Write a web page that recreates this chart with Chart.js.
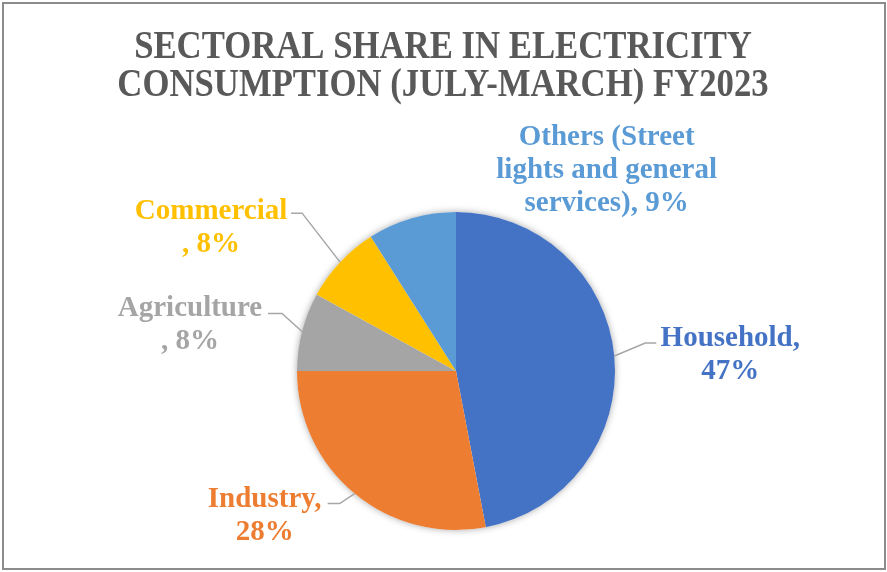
<!DOCTYPE html>
<html>
<head>
<meta charset="utf-8">
<script src="https://cdn.jsdelivr.net/npm/chart.js@4/dist/chart.umd.min.js"></script>
<style>
    body { margin: 0; background: #fff; }
    #wrap { width: 887px; height: 572px; }
</style>
</head>
<body>
<div id="wrap"><canvas id="sectorChart" width="887" height="572"></canvas></div>
<script>
// DATOS DEL GRAFICO

const categories = ['Household', 'Industry', 'Agriculture', 'Commercial', 'Others (Street lights and general services)'];
const shares = [47, 28, 8, 8, 9];
const sliceColors = ['#4472C4', '#ED7D31', '#A5A5A5', '#FFC000', '#5B9BD5'];
const titleLines = ['SECTORAL SHARE IN ELECTRICITY', 'CONSUMPTION (JULY-MARCH) FY2023'];

// como se parte cada etiqueta en lineas ({p} = porcentaje)
const labelWrap = [
    ['Household,', '{p}'],
    ['Industry,', '{p}'],
    ['Agriculture', ', {p}'],
    ['Commercial', ', {p}'],
    ['Others (Street', 'lights and general', 'services), {p}']
];

// posicion de cada etiqueta respecto al borde del sector (centro del texto y codo de la linea guia)
const labelLayout = [
    { dx: 116, dy: -4, elbow: [31, -13], tail: 11 },
    { dx: -90, dy: 20, elbow: [-15, 10], tail: -12 },
    { dx: -112, dy: -9, elbow: [-20, -18], tail: -14 },
    { dx: -129, dy: -37, elbow: [-38, -49], tail: -11 },
    { dx: 195, dy: -50, elbow: null, tail: 0 }
];

const LABEL_FONT = 'bold 29px "Liberation Serif", "Times New Roman", serif';
const TITLE_FONT = 'bold 40px "Liberation Serif", "Times New Roman", serif';
const TITLE_SQUEEZE = 0.868; // el titulo va un poco condensado

// SOMBRA, TITULO Y MARCO

const pieShadow = {
    id: 'pieShadow',
    beforeDatasetsDraw(chart) {
        const arc = chart.getDatasetMeta(0).data[0];
        if (!arc) return;
        const ctx = chart.ctx;
        ctx.save();
        ctx.shadowColor = 'rgba(0,0,0,0.35)';
        ctx.shadowBlur = 7;
        ctx.fillStyle = '#ffffff';
        ctx.beginPath();
        ctx.arc(arc.x, arc.y, arc.outerRadius, 0, Math.PI * 2);
        ctx.fill();
        ctx.restore();
    }
};

const frameAndTitle = {
    id: 'frameAndTitle',
    afterDraw(chart) {
        const ctx = chart.ctx;
        ctx.save();
        ctx.strokeStyle = '#8c8c8c';
        ctx.lineWidth = 2;
        ctx.strokeRect(3, 3, 882, 566);

        ctx.fillStyle = '#595959';
        ctx.font = TITLE_FONT;
        ctx.textAlign = 'center';
        ctx.textBaseline = 'alphabetic';
        ctx.translate(443, 0);
        ctx.scale(TITLE_SQUEEZE, 1);
        ctx.fillText(titleLines[0], 0, 58);
        ctx.fillText(titleLines[1], 0, 96);
        ctx.restore();
    }
};

// ETIQUETAS CON LINEAS GUIA

const sliceLabels = {
    id: 'sliceLabels',
    afterDatasetsDraw(chart) {
        const ctx = chart.ctx;
        const meta = chart.getDatasetMeta(0);
        ctx.save();
        meta.data.forEach((arc, i) => {
            const mid = (arc.startAngle + arc.endAngle) / 2;
            const ex = arc.x + Math.cos(mid) * arc.outerRadius;
            const ey = arc.y + Math.sin(mid) * arc.outerRadius;
            const lay = labelLayout[i];

            if (lay.elbow) {
                const bx = ex + lay.elbow[0];
                const by = ey + lay.elbow[1];
                ctx.strokeStyle = '#a6a6a6';
                ctx.lineWidth = 1.5;
                ctx.beginPath();
                ctx.moveTo(ex, ey);
                ctx.lineTo(bx, by);
                ctx.lineTo(bx + lay.tail, by);
                ctx.stroke();
            }

            const pct = shares[i] + '%';
            const lines = labelWrap[i].map(t => t.replace('{p}', pct));
            const lh = 33;
            const cx = ex + lay.dx;
            const cy = ey + lay.dy;
            ctx.fillStyle = sliceColors[i];
            ctx.font = LABEL_FONT;
            ctx.textAlign = 'center';
            ctx.textBaseline = 'alphabetic';
            lines.forEach((t, k) => {
                const y = cy + (k - (lines.length - 1) / 2) * lh + 10;
                ctx.fillText(t, cx, y);
            });
        });
        ctx.restore();
    }
};

const ctx = document.getElementById('sectorChart').getContext('2d');
const sectorChart = new Chart(ctx, {
    type: 'pie',
    data: {
        labels: categories,
        datasets: [{
            data: shares,
            backgroundColor: sliceColors,
            borderWidth: 0,
            hoverOffset: 0,
            offset: 0
        }]
    },
    options: {
        responsive: false,
        animation: false,
        events: [],
        rotation: 0,
        layout: {
            padding: { left: 297, right: 272, top: 212, bottom: 42 }
        },
        plugins: {
            legend: { display: false },
            tooltip: { enabled: false },
            title: { display: false }
        }
    },
    plugins: [pieShadow, sliceLabels, frameAndTitle]
});
</script>
</body>
</html>
